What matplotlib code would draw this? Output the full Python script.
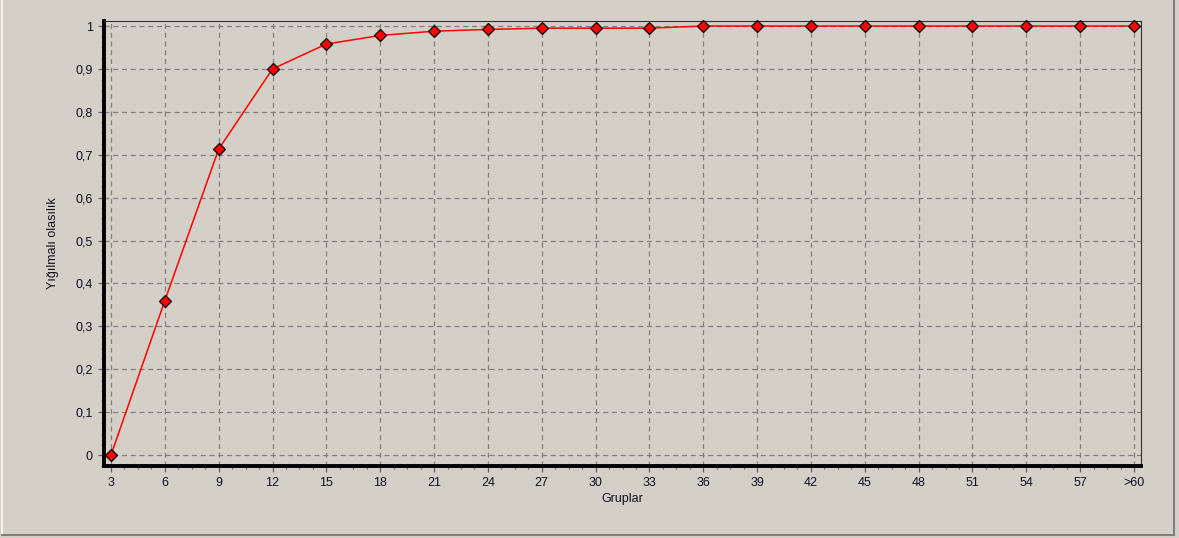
import matplotlib
matplotlib.use("Agg")
import matplotlib.pyplot as plt
from matplotlib.ticker import AutoMinorLocator, FixedLocator
from matplotlib.lines import Line2D

groups = ["3", "6", "9", "12", "15", "18", "21", "24", "27", "30",
          "33", "36", "39", "42", "45", "48", "51", "54", "57", ">60"]
cumulative_prob = [0.0, 0.36, 0.713, 0.90, 0.958, 0.978, 0.988, 0.992, 0.995, 0.995,
                   0.995, 1.0, 1.0, 1.0, 1.0, 1.0, 1.0, 1.0, 1.0, 1.0]
y_ticks = [0.0, 0.1, 0.2, 0.3, 0.4, 0.5, 0.6, 0.7, 0.8, 0.9, 1.0]
y_tick_labels = ["0", "0,1", "0,2", "0,3", "0,4", "0,5", "0,6", "0,7", "0,8", "0,9", "1"]

bg = "#D4D0C8"
plt.rcParams["font.family"] = ["Liberation Sans", "DejaVu Sans"]

fig = plt.figure(figsize=(11.79, 5.38), dpi=100, facecolor=bg)
ax = fig.add_axes([104 / 1179, 1 - 466 / 538, (1141 - 104) / 1179, (466 - 21) / 538])
ax.set_facecolor(bg)

x = list(range(len(groups)))
ax.plot(x, cumulative_prob, color="#FF0000", lw=1.1, marker="D", markersize=6,
        markerfacecolor="#FF0000", markeredgecolor="black", markeredgewidth=0.9,
        zorder=5, clip_on=False)

ax.set_xlim(-0.13, len(groups) - 1 + 0.13)
ax.set_ylim(-0.0256, 1.0117)

ax.xaxis.set_major_locator(FixedLocator(x))
ax.set_xticklabels(groups)
ax.xaxis.set_minor_locator(AutoMinorLocator(4))
ax.set_yticks(y_ticks)
ax.set_yticklabels(y_tick_labels)
ax.yaxis.set_minor_locator(AutoMinorLocator(4))

ax.grid(True, which="major", color="#808080", linestyle=(0, (4, 3)), linewidth=0.9)
ax.set_axisbelow(True)

for side in ("left", "bottom"):
    ax.spines[side].set_linewidth(2.8)
    ax.spines[side].set_color("black")
for side in ("top", "right"):
    ax.spines[side].set_linewidth(0.8)
    ax.spines[side].set_color("#303030")

ax.tick_params(axis="both", which="major", direction="out", length=4, width=0.9,
               color="#606060", labelsize=9, labelcolor="#101020", pad=4)
ax.tick_params(axis="both", which="minor", direction="out", length=2.5, width=0.8,
               color="#606060")

ax.set_xlabel("Gruplar", fontsize=9, color="#101020", labelpad=3)
ax.set_ylabel("Yığılmalı olasılık", fontsize=9, color="#101020", labelpad=12)

# raised panel border
fig.add_artist(Line2D([2 / 1179, 2 / 1179], [3 / 538, 1], transform=fig.transFigure,
                      color="#F4F2EE", lw=1.5))
fig.add_artist(Line2D([1174 / 1179, 1174 / 1179], [3 / 538, 1], transform=fig.transFigure,
                      color="#808080", lw=1.5))
fig.add_artist(Line2D([2 / 1179, 1174 / 1179], [3 / 538, 3 / 538], transform=fig.transFigure,
                      color="#808080", lw=1.5))

fig.savefig("out.png", dpi=100, facecolor=bg)
